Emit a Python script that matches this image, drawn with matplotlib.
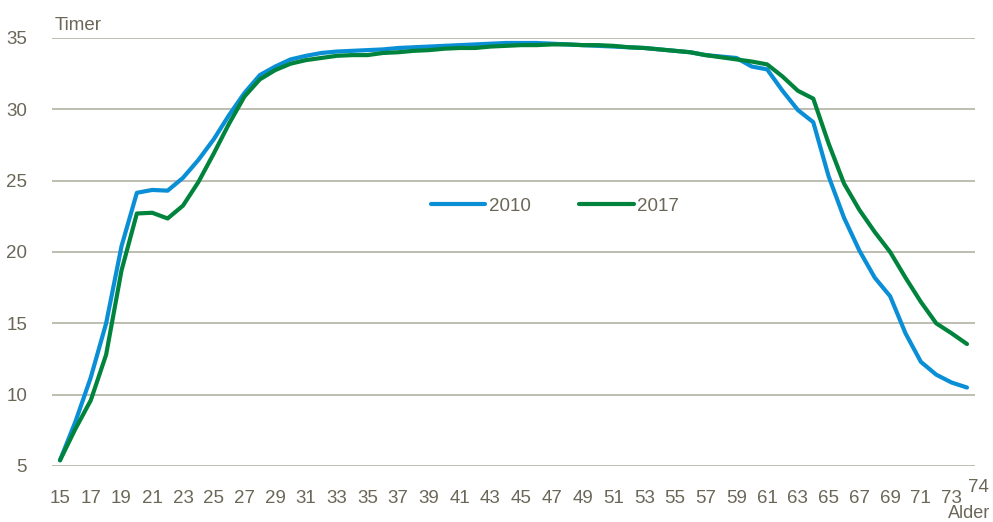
import matplotlib
matplotlib.use("Agg")
import matplotlib.pyplot as plt
from matplotlib import font_manager

ages = list(range(15, 75))
y2010 = [5.4, 8.1, 11.2, 15.0, 20.4, 24.15, 24.35, 24.3, 25.2, 26.45,
         27.9, 29.6, 31.15, 32.4, 33.0, 33.5, 33.75, 33.95, 34.05, 34.1,
         34.15, 34.2, 34.3, 34.35, 34.4, 34.45, 34.5, 34.55, 34.6, 34.65,
         34.65, 34.65, 34.6, 34.55, 34.5, 34.45, 34.4, 34.35, 34.3, 34.2,
         34.1, 34.0, 33.8, 33.7, 33.6, 33.0, 32.8, 31.3, 29.95, 29.1,
         25.3, 22.4, 20.1, 18.2, 16.9, 14.3, 12.3, 11.4, 10.85, 10.5]
y2017 = [5.4, 7.6, 9.6, 12.8, 18.7, 22.7, 22.75, 22.35, 23.25, 24.9,
         26.9, 29.0, 30.9, 32.1, 32.75, 33.2, 33.45, 33.6, 33.75, 33.8,
         33.8, 33.95, 34.0, 34.1, 34.15, 34.25, 34.3, 34.3, 34.4, 34.45,
         34.5, 34.5, 34.55, 34.55, 34.5, 34.5, 34.45, 34.35, 34.3, 34.2,
         34.1, 34.0, 33.8, 33.65, 33.5, 33.35, 33.15, 32.3, 31.3, 30.75,
         27.6, 24.8, 22.95, 21.4, 20.0, 18.2, 16.5, 15.0, 14.3, 13.55]
xticks = list(range(15, 74, 2))
yticks = [5, 10, 15, 20, 25, 30, 35]
series_labels = ["2010", "2017"]

names = {f.name for f in font_manager.fontManager.ttflist}
fam = "Liberation Sans Narrow" if "Liberation Sans Narrow" in names else "Liberation Sans"
plt.rcParams["font.family"] = [fam, "DejaVu Sans"]

txt = "#6b6758"
grid = "#b3b1a3"
blue = "#0a8fd6"
green = "#00843d"
fs = 13.5

fig = plt.figure(figsize=(9.93, 5.22), dpi=100)
ax = fig.add_axes([52/993, 1-466/522, 923/993, 428/522])
ax.plot(ages, y2010, color=blue, lw=3.0, label=series_labels[0], solid_capstyle="round")
ax.plot(ages, y2017, color=green, lw=3.0, label=series_labels[1], solid_capstyle="round")
ax.set_ylim(5, 35)
ax.set_xlim(15 - 8/15.37, 74 + 8/15.37)
ax.set_yticks(yticks)
ax.set_xticks(xticks)
ax.tick_params(axis="both", length=0, labelsize=fs, colors=txt)
ax.tick_params(axis="x", pad=17)
ax.tick_params(axis="y", pad=18)
ax.yaxis.grid(True, color=grid, lw=1.2)
ax.set_axisbelow(True)
for s in ax.spines.values():
    s.set_visible(False)

fig.text(55/993, 1-25/522, "Timer", color=txt, fontsize=fs, ha="left", va="center")
fig.text(978/993, 1-487/522, "74", color=txt, fontsize=fs, ha="center", va="center")
fig.text(990/993, 1-514/522, "Alder", color=txt, fontsize=13, ha="right", va="center")

leg = ax.legend(loc="center", bbox_to_anchor=((555-52)/923, (466-206)/428),
                ncol=2, frameon=False, fontsize=fs, handlelength=2.9, handletextpad=0.2,
                columnspacing=2.6)
for t in leg.get_texts():
    t.set_color(txt)

fig.savefig("out.png", dpi=100)
